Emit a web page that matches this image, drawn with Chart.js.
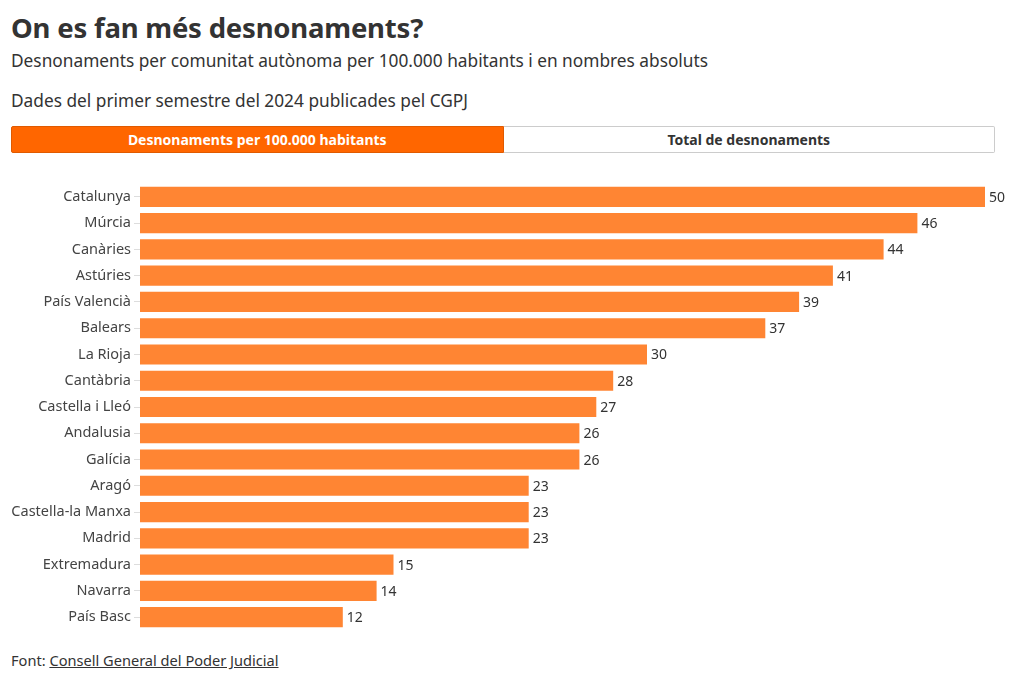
<!DOCTYPE html>
<html>
<head>
<meta charset="utf-8">
<script src="https://cdn.jsdelivr.net/npm/chart.js@4"></script>
<style>
  body { margin: 0; background: #fff; font-family: "Noto Sans", sans-serif; color: #333; }
  #wrap { position: relative; width: 1020px; height: 681px; }
  h1 { position: absolute; left: 11px; top: 9px; margin: 0; font-size: 27.5px; font-weight: 700; color: #333; letter-spacing: -0.2px; }
  .sub { position: absolute; left: 11px; margin: 0; font-size: 17.3px; color: #333; }
  .tabs { position: absolute; left: 11px; top: 126px; width: 984px; height: 27px; display: flex; }
  .tab { flex: 1; display: flex; align-items: center; justify-content: center; font-size: 14px; font-weight: 700; box-sizing: border-box; }
  .tab.on { background: #ff6600; color: #fff; border: 1px solid #e05a00; border-radius: 2px 0 0 2px; }
  .tab.off { background: #fff; color: #333; border: 1px solid #ccc; border-left: none; border-radius: 0 2px 2px 0; }
  #chartBox { position: absolute; left: 0; top: 172px; width: 1020px; height: 470px; }
  .foot { position: absolute; left: 11px; top: 650px; font-size: 14.6px; color: #333; }
  .foot span { text-decoration: underline; }
</style>
</head>
<body>
<div id="wrap">
  <h1>On es fan més desnonaments?</h1>
  <p class="sub" style="top:49px">Desnonaments per comunitat autònoma per 100.000 habitants i en nombres absoluts</p>
  <p class="sub" style="top:89px">Dades del primer semestre del 2024 publicades pel CGPJ</p>
  <div class="tabs">
    <div class="tab on">Desnonaments per 100.000 habitants</div>
    <div class="tab off">Total de desnonaments</div>
  </div>
  <div id="chartBox"><canvas id="barChart"></canvas></div>
  <div class="foot">Font: <span>Consell General del Poder Judicial</span></div>
</div>
<script>
// Desnonaments per 100.000 habitants, 1r semestre 2024
const regions = [
    'Catalunya', 'Múrcia', 'Canàries', 'Astúries', 'País Valencià', 'Balears',
    'La Rioja', 'Cantàbria', 'Castella i Lleó', 'Andalusia', 'Galícia', 'Aragó',
    'Castella-la Manxa', 'Madrid', 'Extremadura', 'Navarra', 'País Basc'
];
const perCapita = [50, 46, 44, 41, 39, 37, 30, 28, 27, 26, 26, 23, 23, 23, 15, 14, 12];

const barColor = '#ff8533';

// draws the value at the end of each bar
const valueLabels = {
    id: 'valueLabels',
    afterDatasetsDraw(chart) {
        const ctx = chart.ctx;
        const meta = chart.getDatasetMeta(0);
        ctx.save();
        ctx.font = '14px "Noto Sans", sans-serif';
        ctx.fillStyle = '#333';
        ctx.textAlign = 'left';
        ctx.textBaseline = 'middle';
        meta.data.forEach((bar, i) => {
            ctx.fillText(String(perCapita[i]), bar.x + 4, bar.y + 1);
        });
        ctx.restore();
    }
};

const ctxBar = document.getElementById('barChart').getContext('2d');
new Chart(ctxBar, {
    type: 'bar',
    data: {
        labels: regions,
        datasets: [{
            data: perCapita,
            backgroundColor: barColor,
            barPercentage: 0.85,
            categoryPercentage: 0.9
        }]
    },
    plugins: [valueLabels],
    options: {
        indexAxis: 'y',
        responsive: true,
        maintainAspectRatio: false,
        animation: false,
        layout: { padding: { top: 8, bottom: 0, right: 35, left: 0 } },
        plugins: {
            legend: { display: false },
            tooltip: { enabled: false }
        },
        scales: {
            x: { display: false, min: 0, max: 50 },
            y: {
                grid: { offset: false, drawOnChartArea: false, tickLength: 6, color: '#ddd' },
                border: { display: false },
                ticks: { color: '#444', font: { family: 'Noto Sans', size: 14.5 }, padding: 3 },
                afterFit(scale) { scale.width = 140; }
            }
        }
    }
});
</script>
</body>
</html>
